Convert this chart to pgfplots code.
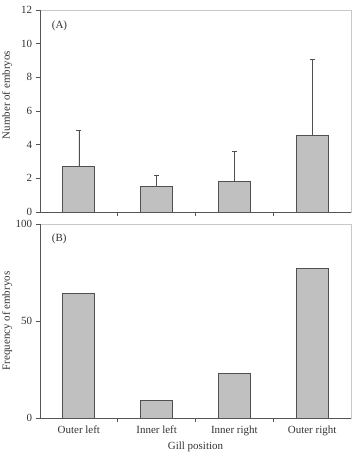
\documentclass[border=0pt]{standalone}
\usepackage{pgfplots}
\pgfplotsset{compat=1.18}
\usepackage{fontspec}
\setmainfont{Liberation Serif}
\definecolor{barfill}{HTML}{C0C0C0}
\definecolor{baredge}{HTML}{505050}
\definecolor{axdark}{HTML}{555555}
\definecolor{axlight}{HTML}{C8C8C8}
\definecolor{txt}{HTML}{333333}
\begin{document}
\fontsize{11}{13}\selectfont
\begin{tikzpicture}
\useasboundingbox (-40bp,-241bp) rectangle (316bp,212bp);
\pgfplotsset{
  common/.style={
    width=311bp, scale only axis,
    xmin=-0.5, xmax=3.5,
    axis line style={axlight, line width=0.7pt},
    tick style={axdark, line width=0.6pt},
    tick align=outside,
    major tick length=4bp,
    xtick={0.5,1.5,2.5},
    xticklabels={},
    ytick pos=left, xtick pos=bottom,
    tick label style={font=\fontsize{11}{13}\selectfont, text=txt},
    label style={font=\fontsize{11}{13}\selectfont, text=txt},
    /pgf/number format/assume math mode=true,
    clip=false,
  },
  barstyle/.style={ybar, bar width=32bp, fill=barfill, draw=baredge, line width=0.8pt},
}
\begin{axis}[common, name=top, at={(0,0)}, anchor=south west,
  height=202bp, ymin=0, ymax=12, ytick={0,2,...,12},
  ylabel={Number of embryos},
  ylabel style={at={(axis description cs:-0.0965,0.579)}, anchor=base}]
\addplot[barstyle, error bars/.cd, y dir=plus, y explicit,
  error bar style={baredge, line width=0.7pt}, error mark options={rotate=90, mark size=2.5bp, baredge, line width=0.7pt}]
  coordinates {(0,2.7) +- (0,2.15) (1,1.5) +- (0,0.7) (2,1.8) +- (0,1.8) (3,4.55) +- (0,4.5)};
\draw[axdark, line width=0.7pt] (rel axis cs:0,0) -- (rel axis cs:0,1);
\draw[axdark, line width=0.7pt] (rel axis cs:0,0) -- (rel axis cs:1,0);
\node[anchor=west, text=txt] at ([xshift=8bp, yshift=-16bp]rel axis cs:0,1) {(A)};
\end{axis}
\begin{axis}[common, name=bot, at={(0,-12bp)}, anchor=north west,
  height=194bp, ymin=0, ymax=100, ytick={0,50,100},
  ylabel={Frequency of embryos},
  ylabel style={at={(axis description cs:-0.0965,0.5)}, anchor=base},
  extra x ticks={0,1,2,3},
  extra x tick labels={Outer left, Inner left, Inner right, Outer right},
  extra x tick style={major tick length=0pt, xticklabel style={anchor=base, yshift=-15bp}},
  xlabel={Gill position},
  xlabel style={at={(axis description cs:0.5,0)}, anchor=base, yshift=-31bp}]
\addplot[barstyle] coordinates {(0,64) (1,9) (2,23) (3,77)};
\draw[axdark, line width=0.7pt] (rel axis cs:0,0) -- (rel axis cs:0,1);
\draw[axdark, line width=0.7pt] (rel axis cs:0,0) -- (rel axis cs:1,0);
\node[anchor=west, text=txt] at ([xshift=8bp, yshift=-15bp]rel axis cs:0,1) {(B)};
\end{axis}
\end{tikzpicture}
\end{document}
